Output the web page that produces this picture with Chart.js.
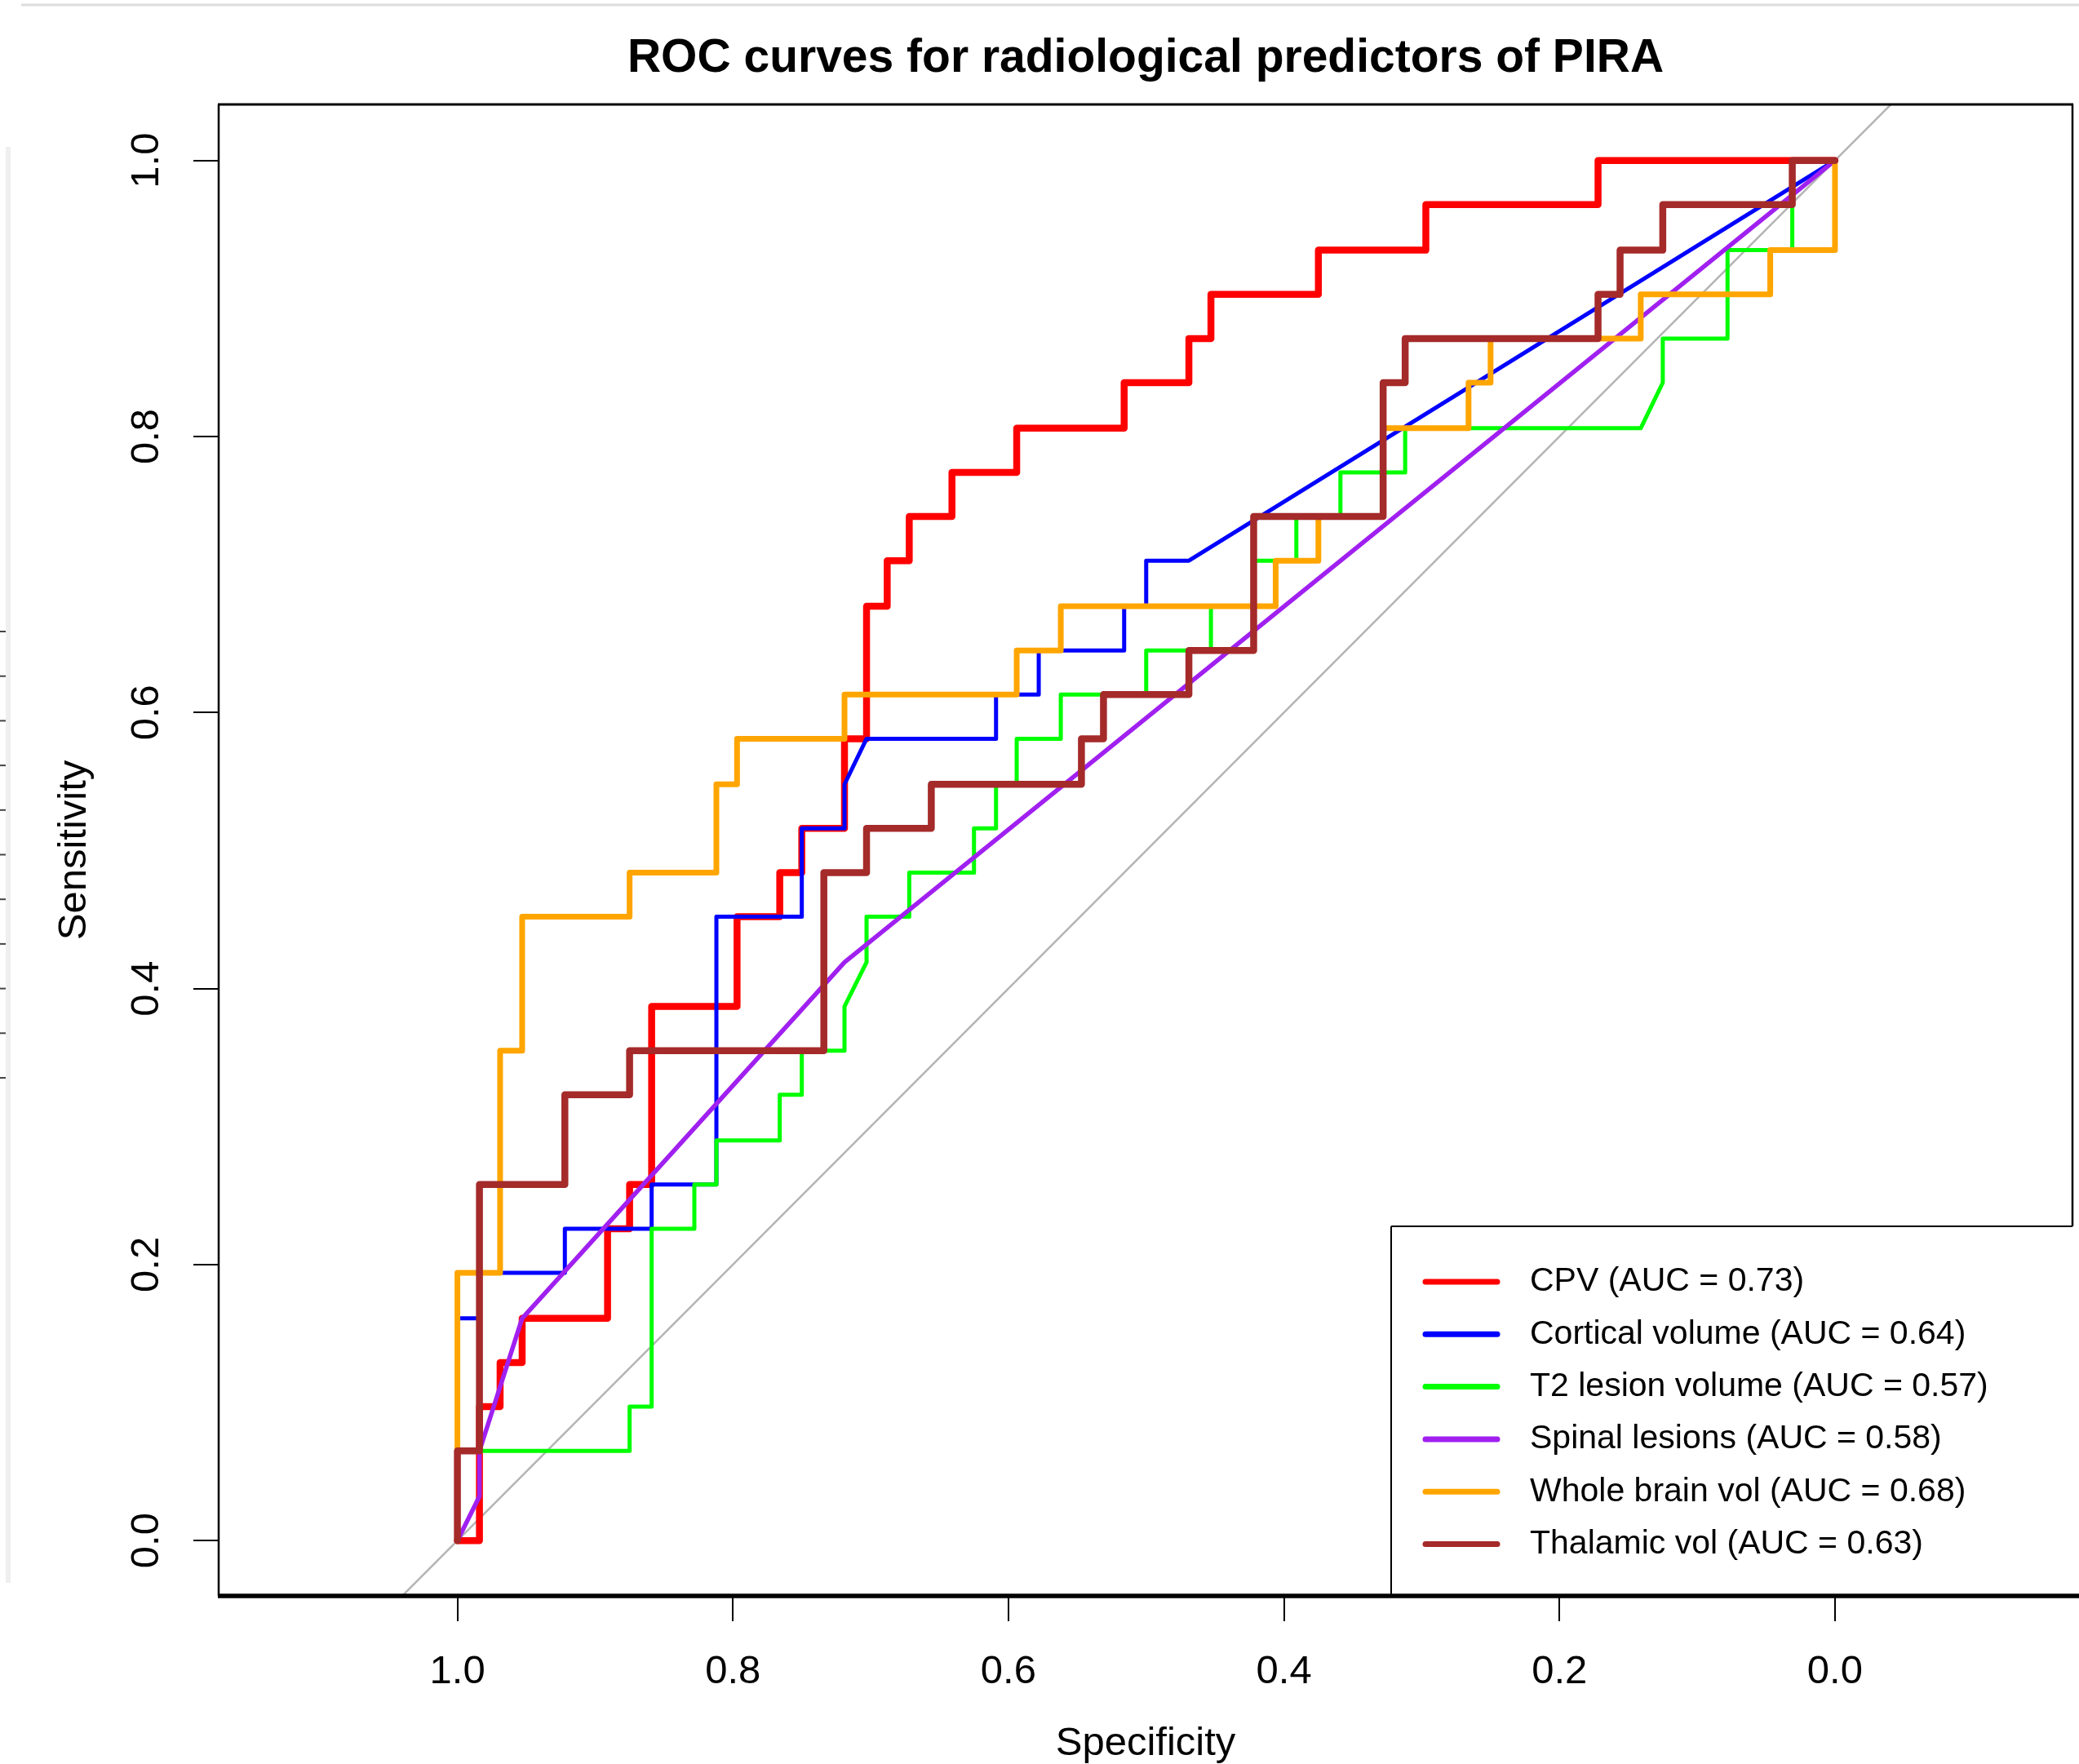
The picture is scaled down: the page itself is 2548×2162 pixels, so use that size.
<!DOCTYPE html>
<html>
<head>
<meta charset="utf-8">
<title>ROC curves for radiological predictors of PIRA</title>
<script src="https://cdn.jsdelivr.net/npm/chart.js@4.4.1/dist/chart.umd.min.js"></script>
<style>
    html, body { margin: 0; padding: 0; background: #fff; }
    canvas { display: block; }
</style>
</head>
<body>
<canvas id="rocChart" width="2548" height="2162" style="width:2548px;height:2162px"></canvas>
<script>
// values (specificity on a reversed x axis, sensitivity on y)
const specTicks = [0, 0.2, 0.4, 0.6, 0.8, 1.0];
const sensTicks = [0, 0.2, 0.4, 0.6, 0.8, 1.0];

const seriesNames = ['CPV', 'Cortical volume', 'T2 lesion volume', 'Spinal lesions', 'Whole brain vol', 'Thalamic vol'];
const aucValues = [0.73, 0.64, 0.57, 0.58, 0.68, 0.63];

const cpvSpec = [1, .984, .984, .969, .969, .953, .953, .891, .891, .875, .875, .859, .859, .797, .797, .766, .766, .75, .75, .719, .719, .703, .703, .688, .688, .672, .672, .641, .641, .594, .594, .516, .516, .469, .469, .453, .453, .375, .375, .297, .297, .172, .172, 0];
const cpvSens = [0, 0, .097, .097, .129, .129, .161, .161, .226, .226, .258, .258, .387, .387, .452, .452, .484, .484, .516, .516, .581, .581, .677, .677, .710, .710, .742, .742, .774, .774, .806, .806, .839, .839, .871, .871, .903, .903, .935, .935, .968, .968, 1, 1];

const corticalSpec = [1, 1, .984, .984, .922, .922, .859, .859, .812, .812, .75, .75, .719, .719, .703, .609, .609, .578, .578, .516, .516, .5, .5, .469, 0];
const corticalSens = [0, .161, .161, .194, .194, .226, .226, .258, .258, .452, .452, .516, .516, .548, .581, .581, .613, .613, .645, .645, .677, .677, .710, .710, 1];

const t2Spec = [1, 1, .875, .875, .859, .859, .828, .828, .812, .812, .766, .766, .75, .75, .719, .719, .703, .703, .672, .672, .625, .625, .609, .609, .594, .594, .562, .562, .5, .5, .453, .453, .422, .422, .391, .391, .359, .359, .312, .312, .141, .125, .125, .078, .078, .031, .031, 0];
const t2Sens = [0, .065, .065, .097, .097, .226, .226, .258, .258, .290, .290, .323, .323, .355, .355, .387, .419, .452, .452, .484, .484, .516, .516, .548, .548, .581, .581, .613, .613, .645, .645, .677, .677, .710, .710, .742, .742, .774, .774, .806, .806, .839, .871, .871, .935, .935, 1, 1];

const spinalSpec = [1, .984, .984, .953, .719, 0];
const spinalSens = [0, .032, .065, .161, .419, 1];

const brainSpec = [1, 1, .969, .969, .953, .953, .875, .875, .812, .812, .797, .797, .719, .719, .594, .594, .562, .562, .406, .406, .375, .375, .328, .328, .266, .266, .25, .25, .141, .141, .047, .047, 0, 0];
const brainSens = [0, .194, .194, .355, .355, .452, .452, .484, .484, .548, .548, .581, .581, .613, .613, .645, .645, .677, .677, .710, .710, .742, .742, .806, .806, .839, .839, .871, .871, .903, .903, .935, .935, 1];

const thalamicSpec = [1, 1, .984, .984, .922, .922, .875, .875, .734, .734, .703, .703, .656, .656, .547, .547, .531, .531, .469, .469, .422, .422, .328, .328, .312, .312, .172, .172, .156, .156, .125, .125, .031, .031, 0];
const thalamicSens = [0, .065, .065, .258, .258, .323, .323, .355, .355, .484, .484, .516, .516, .548, .548, .581, .581, .613, .613, .645, .645, .742, .742, .839, .839, .871, .871, .903, .903, .935, .935, .968, .968, 1, 1];

const chanceSpec = [1.2, -0.2];
const chanceSens = [-0.2, 1.2];

const fontFamily = "'Liberation Sans', Arial, Helvetica, sans-serif";
const seriesColors = ['#ff0000', '#0000ff', '#00ff00', '#a020f0', '#ffa500', '#a52a2a'];
const seriesWidths = [8.5, 5, 5, 5.5, 7, 8.5];

function toPoints(spec, sens) {
    return spec.map((s, i) => ({ x: s, y: sens[i] }));
}

function crearCurva(i, spec, sens) {
    return {
        label: seriesNames[i] + ' (AUC = ' + aucValues[i].toFixed(2) + ')',
        data: toPoints(spec, sens),
        showLine: true,
        borderColor: seriesColors[i],
        backgroundColor: seriesColors[i],
        borderWidth: seriesWidths[i],
        borderJoinStyle: 'round',
        borderCapStyle: 'round',
        pointRadius: 0,
        fill: false,
        tension: 0,
        order: 6 - i,
        inLegend: true
    };
}

function line(ctx, x1, y1, x2, y2) {
    ctx.beginPath();
    ctx.moveTo(x1, y1);
    ctx.lineTo(x2, y2);
    ctx.stroke();
}

const rFrame = {
    id: 'rFrame',
    beforeDraw(chart) {
        const ctx = chart.ctx;
        ctx.save();
        ctx.fillStyle = '#fff';
        ctx.fillRect(0, 0, chart.width, chart.height);
        // leftovers of the screenshot around the figure
        ctx.strokeStyle = '#dddddd';
        ctx.lineWidth = 3;
        line(ctx, 26, 6, chart.width, 6);
        ctx.fillStyle = '#efefef';
        ctx.fillRect(7, 180, 6, 1760);
        ctx.strokeStyle = '#444';
        ctx.lineWidth = 2;
        for (let i = 0; i < 11; i++) {
            const y = 774 + i * 54.7;
            line(ctx, 0, y, 7, y);
        }
        ctx.restore();
    },
    afterDatasetsDraw(chart) {
        const { ctx, chartArea: a } = chart;
        const boxLeft = a.right - 835;
        const boxTop = a.bottom - 453;

        ctx.save();
        ctx.strokeStyle = '#000';
        ctx.lineCap = 'butt';

        // legend box
        ctx.fillStyle = '#fff';
        ctx.fillRect(boxLeft, boxTop, a.right - boxLeft, a.bottom - boxTop);
        ctx.lineWidth = 2;
        line(ctx, boxLeft, boxTop, a.right, boxTop);
        line(ctx, boxLeft, boxTop, boxLeft, a.bottom);

        // plot box
        ctx.lineWidth = 3;
        line(ctx, a.left - 1, a.top, a.right + 1, a.top);
        ctx.lineWidth = 2.5;
        line(ctx, a.left, a.top, a.left, a.bottom);
        line(ctx, a.right, a.top, a.right, boxTop);
        ctx.lineWidth = 5.5;
        line(ctx, a.left - 1, a.bottom, chart.width, a.bottom);

        // legend entries
        const items = chart.data.datasets.filter(d => d.inLegend);
        ctx.font = '41px ' + fontFamily;
        ctx.textBaseline = 'middle';
        ctx.textAlign = 'left';
        items.forEach((d, i) => {
            const y = boxTop + 68 + i * 64.3;
            ctx.strokeStyle = d.borderColor;
            ctx.lineWidth = 7;
            ctx.lineCap = 'round';
            line(ctx, boxLeft + 42, y, boxLeft + 130, y);
            ctx.fillStyle = '#000';
            ctx.fillText(d.label, boxLeft + 170, y);
        });
        ctx.restore();
    }
};

const datasets = [
    crearCurva(0, cpvSpec, cpvSens),
    crearCurva(1, corticalSpec, corticalSens),
    crearCurva(2, t2Spec, t2Sens),
    crearCurva(3, spinalSpec, spinalSens),
    crearCurva(4, brainSpec, brainSens),
    crearCurva(5, thalamicSpec, thalamicSens),
    {
        label: 'chance',
        data: toPoints(chanceSpec, chanceSens),
        showLine: true,
        borderColor: '#b4b4b4',
        borderWidth: 2.5,
        pointRadius: 0,
        fill: false,
        order: 10
    }
];

const tickGrid = {
    drawOnChartArea: false,
    drawTicks: true,
    tickLength: 31,
    color: '#000',
    lineWidth: 2
};

const config = {
    type: 'scatter',
    data: { datasets },
    options: {
        responsive: false,
        animation: false,
        events: [],
        layout: { padding: { left: 0, right: 8, top: 0, bottom: 0 } },
        plugins: {
            legend: { display: false },
            tooltip: { enabled: false },
            title: {
                display: true,
                fullSize: false,
                text: 'ROC curves for radiological predictors of PIRA',
                color: '#000',
                font: { family: fontFamily, size: 57, weight: 'bold', lineHeight: 1.2 },
                padding: { top: 38, bottom: 21.6 }
            }
        },
        scales: {
            x: {
                type: 'linear',
                reverse: true,
                min: -0.1724,
                max: 1.1733,
                afterBuildTicks: axis => { axis.ticks = specTicks.map(value => ({ value })); },
                afterFit: axis => { axis.height = 206; axis.paddingLeft = 0; axis.paddingRight = 0; },
                grid: tickGrid,
                border: { display: false },
                ticks: {
                    color: '#000',
                    font: { family: fontFamily, size: 49 },
                    padding: 33,
                    autoSkip: false,
                    minRotation: 0,
                    maxRotation: 0,
                    callback: v => v.toFixed(1)
                },
                title: {
                    display: true,
                    text: 'Specificity',
                    color: '#000',
                    font: { family: fontFamily, size: 49, lineHeight: 1 },
                    padding: 0
                }
            },
            y: {
                type: 'linear',
                min: -0.0401,
                max: 1.0406,
                afterBuildTicks: axis => { axis.ticks = sensTicks.map(value => ({ value })); },
                afterFit: axis => { axis.width = 268; axis.paddingTop = 0; axis.paddingBottom = 0; },
                grid: tickGrid,
                border: { display: false },
                ticks: {
                    color: '#000',
                    font: { family: fontFamily, size: 49 },
                    padding: 22,
                    autoSkip: false,
                    minRotation: 90,
                    maxRotation: 90,
                    crossAlign: 'center',
                    callback: v => v.toFixed(1)
                },
                title: {
                    display: true,
                    text: 'Sensitivity',
                    color: '#000',
                    font: { family: fontFamily, size: 49, lineHeight: 1.2 },
                    padding: { top: 62, bottom: 0 }
                }
            }
        }
    },
    plugins: [rFrame]
};

document.addEventListener('DOMContentLoaded', () => {
    const ctx = document.getElementById('rocChart').getContext('2d');
    new Chart(ctx, config);
});
</script>
</body>
</html>
